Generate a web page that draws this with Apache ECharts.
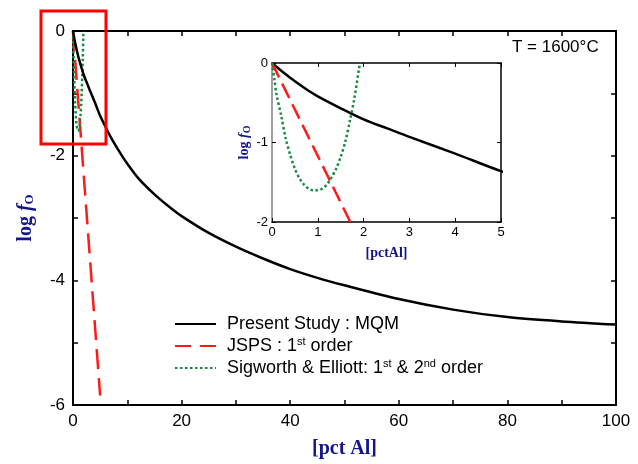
<!DOCTYPE html>
<html>
<head>
<meta charset="utf-8">
<script src="https://cdn.jsdelivr.net/npm/echarts@6/dist/echarts.min.js"></script>
<style>
html,body{margin:0;padding:0;background:#fff;}
#chart{width:638px;height:464px;}
</style>
</head>
<body>
<div id="chart"></div>
<script>
// ---- data ----
const seriesNames = ['Present Study : MQM', 'JSPS : 1st order', 'Sigworth & Elliott: 1st & 2nd order'];

// Present Study : MQM (black solid)
const mqmX = [0, 0.25, 0.5, 0.75, 1, 1.5, 2, 2.5, 3, 4, 5, 6, 7, 8, 9, 10, 12, 15, 18, 20, 25, 30, 35, 40, 45, 50, 60, 70, 80, 90, 100];
const mqmY = [0, -0.12, -0.23, -0.33, -0.42, -0.57, -0.71, -0.82, -0.93, -1.14, -1.36, -1.54, -1.71, -1.86, -2.0, -2.13, -2.36, -2.62, -2.84, -2.97, -3.24, -3.46, -3.65, -3.82, -3.96, -4.08, -4.30, -4.47, -4.59, -4.66, -4.71];

// JSPS : 1st order (red dashed)
const jspsX = [0, 5];
const jspsY = [0, -5.85];

// Sigworth & Elliott: 1st & 2nd order (green dotted)
const seX = [0, 0.05, 0.1, 0.2, 0.3, 0.4, 0.5, 0.6, 0.7, 0.8, 0.9, 1.0, 1.1, 1.2, 1.3, 1.4, 1.5, 1.6, 1.7, 1.8, 1.9, 1.92];
const seY = [0, -0.2, -0.4, -0.66, -0.95, -1.16, -1.33, -1.45, -1.53, -1.58, -1.6, -1.6, -1.58, -1.53, -1.44, -1.33, -1.18, -0.99, -0.73, -0.44, -0.07, 0];

// axis ranges / ticks
const mainX = {min: 0, max: 100, step: 10, labelEvery: 20};
const mainY = {min: -6, max: 0, step: 1, labelEvery: 2};
const insetX = {min: 0, max: 5, step: 1};
const insetY = {min: -2, max: 0, step: 1};
const tempLabel = 'T = 1600°C';

// ---- build ----
const zip = (xs, ys) => xs.map((x, i) => [x, ys[i]]);
const NAVY = '#14148c';
const RED = '#ff1a1a';
const GREEN = '#178a3e';
const sans = 'Liberation Sans, Arial, sans-serif';
const serif = 'Liberation Serif, Times New Roman, serif';

function valAxis(o, extra) {
  return Object.assign({
    type: 'value', min: o.min, max: o.max, interval: o.step,
    splitLine: {show: false},
    axisLine: {show: true, onZero: false, lineStyle: {color: '#000', width: 2}},
    axisTick: {show: true, inside: true, length: 5, lineStyle: {color: '#000', width: 1.5}},
  }, extra);
}
const insetLine = {show: true, onZero: false, lineStyle: {color: '#000', width: 1.5}};
const insetTick = {show: true, inside: true, length: 4, lineStyle: {color: '#000', width: 1}};

const chart = echarts.init(document.getElementById('chart'), null, {renderer: 'canvas'});

const option = {
  backgroundColor: '#fff',
  animation: false,
  grid: [
    {left: 73, top: 31, width: 543, height: 375},
    {left: 272, top: 63, width: 229, height: 159, show: true, backgroundColor: '#fff', borderWidth: 0}
  ],
  xAxis: [
    valAxis(mainX, {gridIndex: 0, position: 'bottom',
      name: '[pct Al]', nameLocation: 'middle', nameGap: 34,
      nameTextStyle: {fontFamily: serif, fontWeight: 'bold', fontSize: 20, color: NAVY},
      axisLabel: {fontFamily: sans, fontSize: 17, color: '#000', margin: 8,
        formatter: v => (v % mainX.labelEvery === 0 ? String(v) : '')}}),
    valAxis(mainX, {gridIndex: 0, position: 'top', axisLabel: {show: false}}),
    valAxis(insetX, {gridIndex: 1, position: 'bottom', axisLine: insetLine, axisTick: insetTick,
      name: '[pctAl]', nameLocation: 'middle', nameGap: 24,
      nameTextStyle: {fontFamily: serif, fontWeight: 'bold', fontSize: 14, color: NAVY},
      axisLabel: {fontFamily: sans, fontSize: 13, color: '#000', margin: 4}}),
    valAxis(insetX, {gridIndex: 1, position: 'top', axisLine: insetLine, axisTick: insetTick,
      axisLabel: {show: false}})
  ],
  yAxis: [
    valAxis(mainY, {gridIndex: 0, position: 'left',
      name: '{a|log }{i|f}{s|O}', nameLocation: 'middle', nameGap: 37,
      nameTextStyle: {color: NAVY, rich: {
        a: {fontFamily: serif, fontWeight: 'bold', fontSize: 20, color: NAVY},
        i: {fontFamily: serif, fontWeight: 'bold', fontStyle: 'italic', fontSize: 20, color: NAVY},
        s: {fontFamily: serif, fontWeight: 'bold', fontSize: 13, color: NAVY, padding: [8, 0, 0, 0]}
      }},
      axisLabel: {fontFamily: sans, fontSize: 17, color: '#000', margin: 8,
        formatter: v => (v % mainY.labelEvery === 0 ? String(v) : '')}}),
    valAxis(mainY, {gridIndex: 0, position: 'right', axisLabel: {show: false}}),
    valAxis(insetY, {gridIndex: 1, position: 'left',
      axisLine: {show: true, onZero: false, lineStyle: {color: '#808080', width: 1.5}},
      axisTick: insetTick,
      name: '{a|log }{i|f}{s|O}', nameLocation: 'middle', nameGap: 20,
      nameTextStyle: {color: NAVY, rich: {
        a: {fontFamily: serif, fontWeight: 'bold', fontSize: 14, color: NAVY},
        i: {fontFamily: serif, fontWeight: 'bold', fontStyle: 'italic', fontSize: 14, color: NAVY},
        s: {fontFamily: serif, fontWeight: 'bold', fontSize: 10, color: NAVY, padding: [6, 0, 0, 0]}
      }},
      axisLabel: {fontFamily: sans, fontSize: 13, color: '#000', margin: 4}}),
    valAxis(insetY, {gridIndex: 1, position: 'right', axisLine: insetLine, axisTick: insetTick,
      axisLabel: {show: false}})
  ],
  legend: {
    data: [
      {name: seriesNames[0]},
      {name: seriesNames[1], lineStyle: {type: [16, 9]}},
      {name: seriesNames[2], lineStyle: {type: [2.5, 2.5]}}
    ],
    orient: 'vertical', left: 169, top: 310,
    itemWidth: 41, itemHeight: 12, itemGap: 3,
    selectedMode: false,
    itemStyle: {opacity: 0},
    textStyle: {fontFamily: sans, fontSize: 18, color: '#000', padding: [0, 0, 0, 6],
      rich: {
        a: {fontFamily: sans, fontSize: 18, color: '#000', lineHeight: 22},
        s: {fontFamily: sans, fontSize: 11, color: '#000', padding: [0, 0, 9, 0]}
      }},
    formatter: function (name) {
      if (name === seriesNames[1]) return '{a|JSPS : 1}{s|st}{a| order}';
      if (name === seriesNames[2]) return '{a|Sigworth & Elliott: 1}{s|st}{a| & 2}{s|nd}{a| order}';
      return '{a|' + name + '}';
    }
  },
  series: [
    {name: seriesNames[0], type: 'line', xAxisIndex: 0, yAxisIndex: 0, data: zip(mqmX, mqmY),
      showSymbol: false, symbol: 'none', smooth: 0.3, lineStyle: {color: '#000', width: 2.5}, itemStyle: {color: '#000'}, z: 3},
    {name: seriesNames[1], type: 'line', xAxisIndex: 0, yAxisIndex: 0, data: zip(jspsX, jspsY),
      showSymbol: false, symbol: 'none', lineStyle: {color: RED, width: 2.5, type: [20, 9]}, itemStyle: {color: RED}, z: 2},
    {name: seriesNames[2], type: 'line', xAxisIndex: 0, yAxisIndex: 0, data: zip(seX, seY),
      showSymbol: false, symbol: 'none', smooth: 0.3, lineStyle: {color: GREEN, width: 2.5, type: [2.5, 2.5]}, itemStyle: {color: GREEN}, z: 2},
    {name: seriesNames[0], type: 'line', xAxisIndex: 2, yAxisIndex: 2, data: zip(mqmX, mqmY), clip: true,
      showSymbol: false, symbol: 'none', smooth: 0.3, lineStyle: {color: '#000', width: 2.5}, z: 6},
    {name: seriesNames[1], type: 'line', xAxisIndex: 2, yAxisIndex: 2, data: zip(jspsX, jspsY), clip: true,
      showSymbol: false, symbol: 'none', lineStyle: {color: RED, width: 2.5, type: [16, 7]}, z: 6},
    {name: seriesNames[2], type: 'line', xAxisIndex: 2, yAxisIndex: 2, data: zip(seX, seY), clip: true,
      showSymbol: false, symbol: 'none', smooth: 0.3, lineStyle: {color: GREEN, width: 2.5, type: [2.5, 2.5]}, z: 6}
  ],
  graphic: [
    {type: 'text', left: 512, top: 39, z: 10,
      style: {text: tempLabel, fontFamily: sans, fontSize: 17, fill: '#000'}},
    {type: 'rect', z: 20, shape: {x: 41, y: 11, width: 65, height: 133},
      style: {fill: 'none', stroke: '#ff0000', lineWidth: 3}}
  ]
};
chart.setOption(option);
</script>
</body>
</html>
